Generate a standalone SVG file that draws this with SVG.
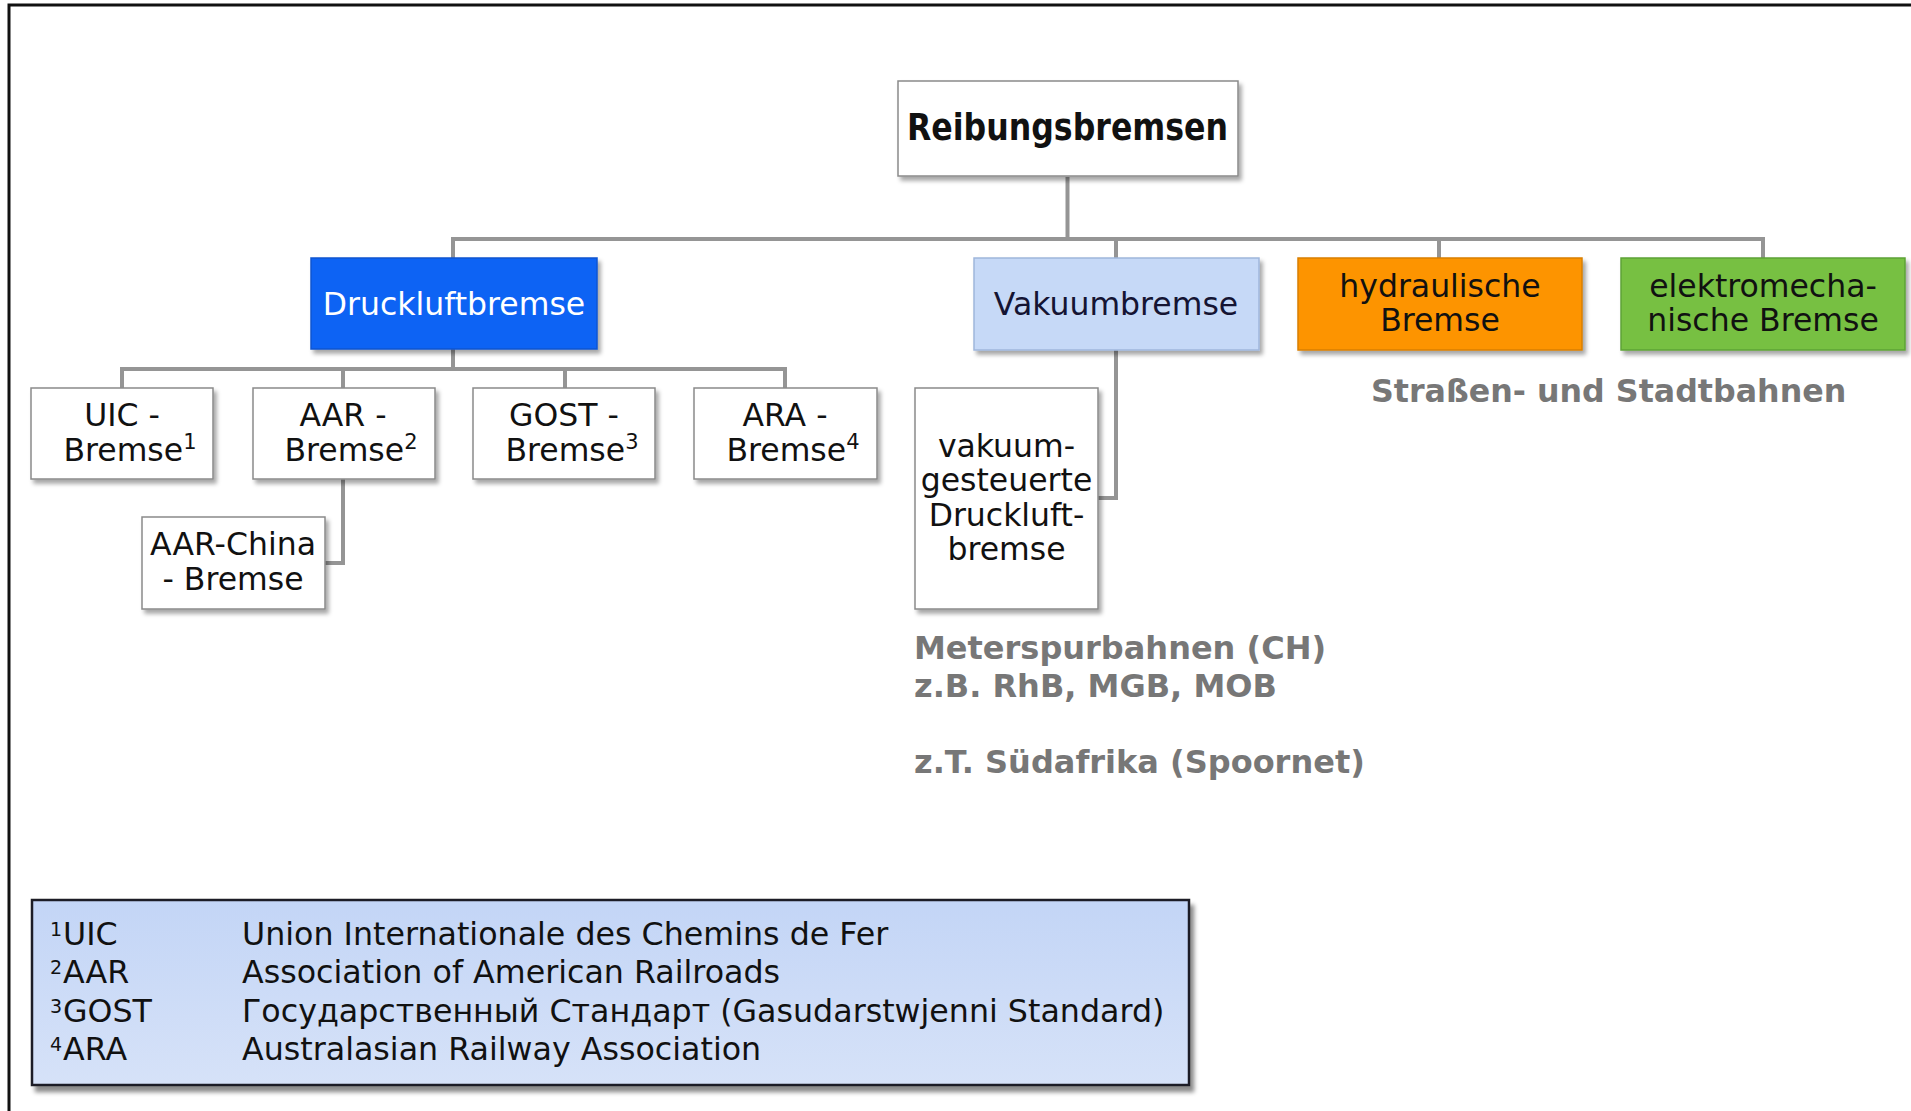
<svg xmlns="http://www.w3.org/2000/svg" width="1911" height="1111" viewBox="0 0 1911 1111">
<defs>
<filter id="sh" x="-10%" y="-10%" width="130%" height="140%">
<feDropShadow dx="3" dy="4" stdDeviation="2" flood-color="#000" flood-opacity="0.35"/>
</filter>
<filter id="sh2" x="-5%" y="-5%" width="115%" height="120%">
<feDropShadow dx="4" dy="6" stdDeviation="2" flood-color="#000" flood-opacity="0.45"/>
</filter>
<linearGradient id="lg" x1="0" y1="0" x2="0" y2="1">
<stop offset="0" stop-color="#c3d5f6"/>
<stop offset="1" stop-color="#d6e2f8"/>
</linearGradient>
</defs>
<style>
text{font-family:"DejaVu Sans",Verdana,"Liberation Sans",sans-serif;fill:#111}
.t{font-size:31.5px;text-anchor:middle}
.sup{font-size:21px}
.w{fill:#fff;stroke:#8a8a8a;stroke-width:1.5}
.g{font-size:32px;font-weight:bold;fill:#777}
.lg{font-size:31.7px}
.ls{font-size:19px}
.con{fill:none;stroke:#959595;stroke-width:4}
</style>
<rect x="0" y="0" width="1911" height="1111" fill="#fff"/>
<path d="M9,1111 V5 H1911" fill="none" stroke="#111" stroke-width="3"/>

<g id="connectors" class="con">
<path d="M1067.5,177 V239"/>
<path d="M453,258 V239 H1763 V258"/>
<path d="M1116,239 V258"/>
<path d="M1439,239 V258"/>
<path d="M453,349 V369"/>
<path d="M122,388 V369 H785 V388"/>
<path d="M343,369 V388"/>
<path d="M565,369 V388"/>
<path d="M343,479 V563 H325"/>
<path d="M1116,350 V498 H1098"/>
</g>

<g id="root">
<rect x="898" y="81" width="340" height="95" class="w" filter="url(#sh)"/>
<text x="1067.5" y="140" text-anchor="middle" font-size="38" font-weight="bold" textLength="321" lengthAdjust="spacingAndGlyphs">Reibungsbremsen</text>
</g>

<g id="druckluft">
<rect x="311" y="258" width="286" height="91" fill="#0b63f4" stroke="#0a55d0" stroke-width="1.5" filter="url(#sh)"/>
<text x="454" y="315" class="t" style="fill:#fff">Druckluftbremse</text>
</g>

<g id="vakuum">
<rect x="974" y="258" width="285" height="92" fill="#c6d9f7" stroke="#9fb6dc" stroke-width="1.5" filter="url(#sh)"/>
<text x="1116" y="315" class="t" style="fill:#141433">Vakuumbremse</text>
</g>

<g id="hydraulisch">
<rect x="1298" y="258" width="284" height="92" fill="#fd9400" stroke="#d97f00" stroke-width="1.5" filter="url(#sh)"/>
<text x="1440" y="297" class="t">hydraulische</text>
<text x="1440" y="331" class="t">Bremse</text>
</g>

<g id="elektro">
<rect x="1621" y="258" width="284" height="92" fill="#77c043" stroke="#5ea334" stroke-width="1.5" filter="url(#sh)"/>
<text x="1763" y="297" class="t">elektromecha-</text>
<text x="1763" y="331" class="t">nische Bremse</text>
</g>

<g id="uic">
<rect x="31" y="388" width="182" height="91" class="w" filter="url(#sh)"/>
<text x="122" y="426" class="t">UIC -</text>
<text x="130" y="461" class="t">Bremse<tspan class="sup" dy="-12">1</tspan></text>
</g>

<g id="aar">
<rect x="253" y="388" width="182" height="91" class="w" filter="url(#sh)"/>
<text x="343" y="426" class="t">AAR -</text>
<text x="351" y="461" class="t">Bremse<tspan class="sup" dy="-12">2</tspan></text>
</g>

<g id="gost">
<rect x="473" y="388" width="182" height="91" class="w" filter="url(#sh)"/>
<text x="564" y="426" class="t">GOST -</text>
<text x="572" y="461" class="t">Bremse<tspan class="sup" dy="-12">3</tspan></text>
</g>

<g id="ara">
<rect x="694" y="388" width="183" height="91" class="w" filter="url(#sh)"/>
<text x="785" y="426" class="t">ARA -</text>
<text x="793" y="461" class="t">Bremse<tspan class="sup" dy="-12">4</tspan></text>
</g>

<g id="aarchina">
<rect x="142" y="517" width="183" height="92" class="w" filter="url(#sh)"/>
<text x="233" y="555" class="t">AAR-China</text>
<text x="233" y="590" class="t">- Bremse</text>
</g>

<g id="vakuumgesteuert">
<rect x="915" y="388" width="183" height="221" class="w" filter="url(#sh)"/>
<text x="1006.5" y="457" class="t">vakuum-</text>
<text x="1006.5" y="491" class="t">gesteuerte</text>
<text x="1006.5" y="526" class="t">Druckluft-</text>
<text x="1006.5" y="560" class="t">bremse</text>
</g>

<g id="notes">
<text x="1371" y="402" class="g" style="font-size:31.7px">Straßen- und Stadtbahnen</text>
<text x="914" y="659" class="g">Meterspurbahnen (CH)</text>
<text x="914" y="697" class="g">z.B. RhB, MGB, MOB</text>
<text x="914" y="773" class="g">z.T. Südafrika (Spoornet)</text>
</g>

<g id="legend">
<rect x="32" y="900" width="1157" height="185" fill="url(#lg)" stroke="#1c1c28" stroke-width="2.5" filter="url(#sh2)"/>
<text x="50" y="936" class="ls">1</text>
<text x="63" y="945" class="lg">UIC</text>
<text x="242" y="945" class="lg">Union Internationale des Chemins de Fer</text>
<text x="50" y="974" class="ls">2</text>
<text x="63" y="983" class="lg">AAR</text>
<text x="242" y="983" class="lg">Association of American Railroads</text>
<text x="50" y="1013" class="ls">3</text>
<text x="63" y="1022" class="lg">GOST</text>
<text x="242" y="1022" class="lg">Государственный Стандарт (Gasudarstwjenni Standard)</text>
<text x="50" y="1051" class="ls">4</text>
<text x="63" y="1060" class="lg">ARA</text>
<text x="242" y="1060" class="lg">Australasian Railway Association</text>
</g>
</svg>
